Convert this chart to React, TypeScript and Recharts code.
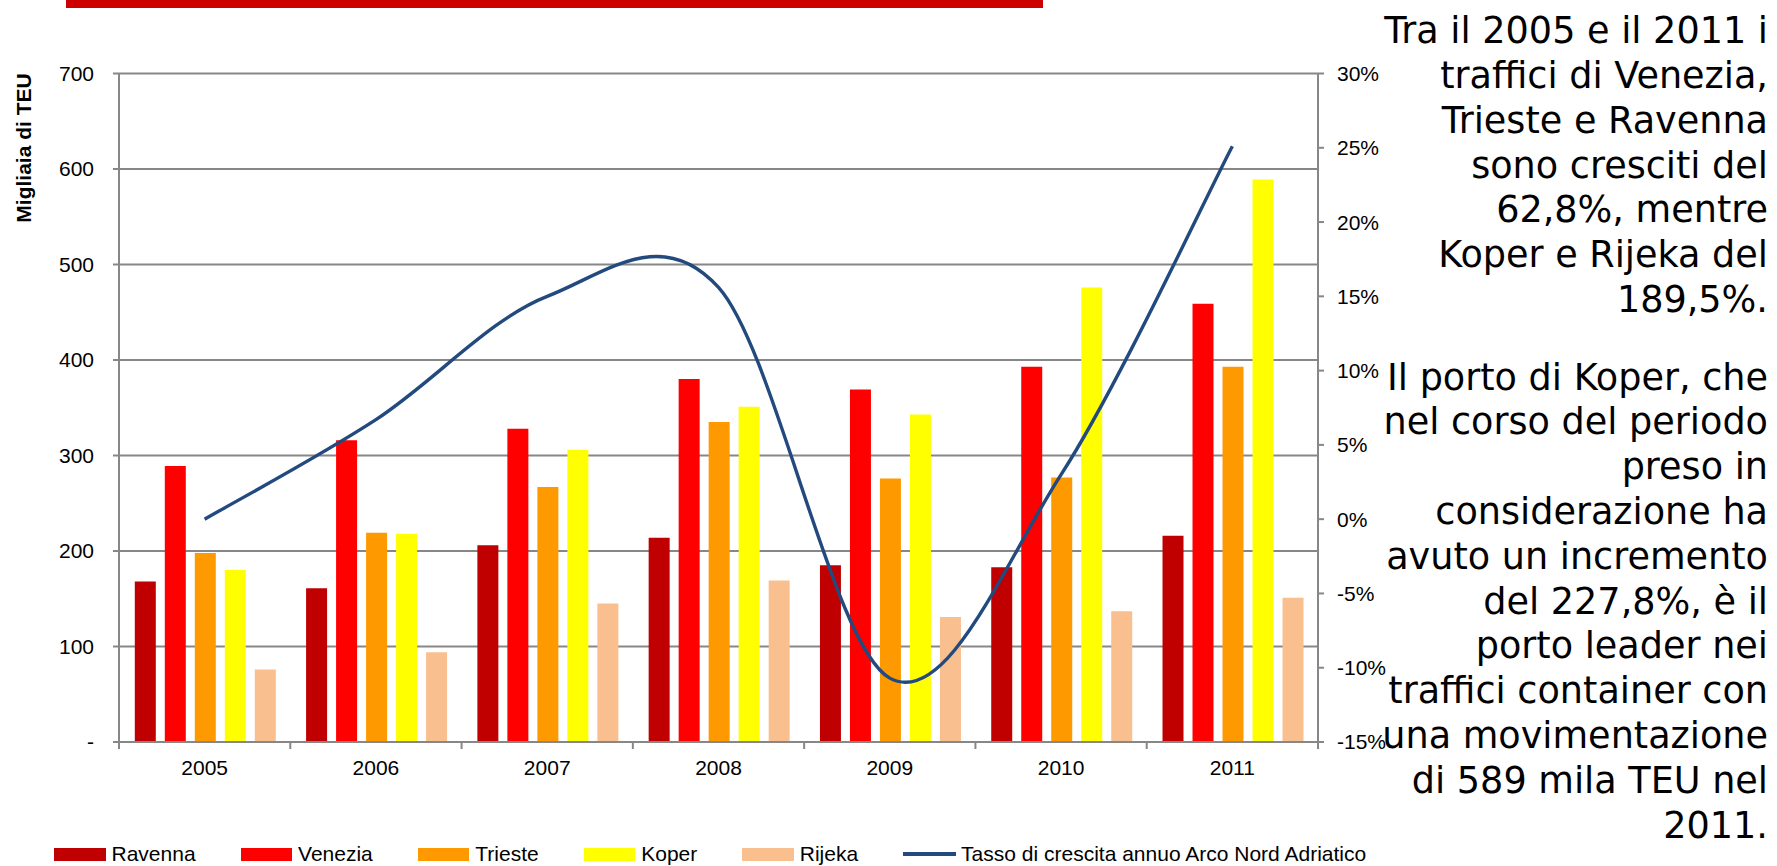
import React from "react";
import { ComposedChart, Bar, Line, XAxis, YAxis, CartesianGrid } from "recharts";

// Container traffic (thousand TEU) per port, 2005-2011
const YEARS = ["2005", "2006", "2007", "2008", "2009", "2010", "2011"];
const RAVENNA = [168, 161, 206, 214, 185, 183, 216];
const VENEZIA = [289, 316, 328, 380, 369, 393, 459];
const TRIESTE = [198, 219, 267, 335, 276, 277, 393];
const KOPER = [180, 218, 306, 351, 343, 476, 589];
const RIJEKA = [76, 94, 145, 169, 131, 137, 151];
// annual growth rate of the North Adriatic ports, %
const GROWTH = [0, 6.7, 15, 15.6, -10.7, 3, 25.1];

const TEU_TICKS = [0, 100, 200, 300, 400, 500, 600, 700];
const PCT_TICKS = [-15, -10, -5, 0, 5, 10, 15, 20, 25, 30];

const SERIES = [
  { key: "ravenna", name: "Ravenna", color: "#C00000", values: RAVENNA },
  { key: "venezia", name: "Venezia", color: "#FF0000", values: VENEZIA },
  { key: "trieste", name: "Trieste", color: "#FF9900", values: TRIESTE },
  { key: "koper", name: "Koper", color: "#FFFF00", values: KOPER },
  { key: "rijeka", name: "Rijeka", color: "#F9BF8F", values: RIJEKA },
];
const LINE_NAME = "Tasso di crescita annuo Arco Nord Adriatico";
const LINE_COLOR = "#234A7E";

const NOTE = [
  [
    "Tra il 2005 e il 2011 i",
    "traffici di Venezia,",
    "Trieste e Ravenna",
    "sono cresciti del",
    "62,8%, mentre",
    "Koper e Rijeka del",
    "189,5%.",
  ],
  [
    "Il porto di Koper, che",
    "nel corso del periodo",
    "preso in",
    "considerazione ha",
    "avuto un incremento",
    "del 227,8%, è il",
    "porto leader nei",
    "traffici container con",
    "una movimentazione",
    "di 589 mila TEU nel",
    "2011.",
  ],
];

const data = YEARS.map((year, i) => {
  const row: Record<string, string | number> = { year, growth: GROWTH[i] };
  SERIES.forEach((s) => (row[s.key] = s.values[i]));
  return row;
});

// layout
const W = 1777;
const H = 866;
const PLOT_LEFT = 119;
const PLOT_RIGHT = 1318;
const PLOT_TOP = 73.5;
const PLOT_BOTTOM = 742;
const AXIS_W = 70;
const XAXIS_H = 40;
const BAND = (PLOT_RIGHT - PLOT_LEFT) / YEARS.length;

const GRAY = "#878787";
const SANS = "'Liberation Sans', Arial, sans-serif";

// Smooth line through every point (Catmull-Rom, like the spreadsheet "smoothed line")
function smoothCurve(context: any) {
  let pts: [number, number][] = [];
  return {
    areaStart() {},
    areaEnd() {},
    lineStart() {
      pts = [];
    },
    point(x: number, y: number) {
      pts.push([+x, +y]);
    },
    lineEnd() {
      if (!pts.length) return;
      context.moveTo(pts[0][0], pts[0][1]);
      for (let i = 0; i < pts.length - 1; i++) {
        const p0 = pts[Math.max(i - 1, 0)];
        const p1 = pts[i];
        const p2 = pts[i + 1];
        const p3 = pts[Math.min(i + 2, pts.length - 1)];
        context.bezierCurveTo(
          p1[0] + (p2[0] - p0[0]) / 6,
          p1[1] + (p2[1] - p0[1]) / 6,
          p2[0] - (p3[0] - p1[0]) / 6,
          p2[1] - (p3[1] - p1[1]) / 6,
          p2[0],
          p2[1]
        );
      }
    },
  };
}

// year label centred in the band, tick marks on the band edges
function YearTick(props: any) {
  const { x, payload, index } = props;
  const left = x - BAND / 2;
  const right = x + BAND / 2;
  return (
    <g>
      <line x1={left} x2={left} y1={PLOT_BOTTOM} y2={PLOT_BOTTOM + 7} stroke={GRAY} strokeWidth={2} />
      {index === YEARS.length - 1 && (
        <line x1={right} x2={right} y1={PLOT_BOTTOM} y2={PLOT_BOTTOM + 7} stroke={GRAY} strokeWidth={2} />
      )}
      <text
        x={x}
        y={PLOT_BOTTOM + 25}
        textAnchor="middle"
        dominantBaseline="central"
        fontSize={21}
        fontFamily={SANS}
        fill="#000"
      >
        {payload.value}
      </text>
    </g>
  );
}

function LegendRow() {
  return (
    <div
      style={{
        position: "absolute",
        left: 54,
        top: 854,
        transform: "translateY(-50%)",
        display: "flex",
        alignItems: "center",
        gap: 45,
        fontFamily: SANS,
        fontSize: 21,
        lineHeight: "22px",
        whiteSpace: "nowrap",
      }}
    >
      {SERIES.map((s) => (
        <div key={s.key} style={{ display: "flex", alignItems: "center" }}>
          <span style={{ width: 51.5, height: 13, background: s.color, marginRight: 6 }} />
          <span>{s.name}</span>
        </div>
      ))}
      <div style={{ display: "flex", alignItems: "center" }}>
        <span style={{ width: 53, height: 3.5, background: LINE_COLOR, marginRight: 5 }} />
        <span>{LINE_NAME}</span>
      </div>
    </div>
  );
}

function NoteText() {
  const tops = [9.3, 355.6];
  return (
    <>
      {NOTE.map((lines, p) => (
        <div
          key={p}
          style={{
            position: "absolute",
            right: W - 1768,
            top: tops[p],
            textAlign: "right",
            fontFamily: "'DejaVu Sans', Verdana, sans-serif",
            fontSize: 36.6,
            lineHeight: "44.8px",
            color: "#000",
            whiteSpace: "nowrap",
          }}
        >
          {lines.map((l, i) => (
            <div key={i}>{l}</div>
          ))}
        </div>
      ))}
    </>
  );
}

export default function App() {
  return (
    <div
      style={{
        position: "absolute",
        left: 0,
        top: 0,
        width: W,
        height: H,
        background: "#fff",
        overflow: "hidden",
        fontFamily: SANS,
      }}
    >
      <div style={{ position: "absolute", left: 66, top: 0, width: 977, height: 8, background: "#CC0000" }} />

      <div
        style={{
          position: "absolute",
          left: 24,
          top: 148,
          transform: "translate(-50%, -50%) rotate(-90deg)",
          fontWeight: "bold",
          fontSize: 21,
          whiteSpace: "nowrap",
        }}
      >
        Migliaia di TEU
      </div>

      <div style={{ position: "absolute", left: 0, top: 0 }}>
        <ComposedChart
          width={W}
          height={H}
          data={data}
          margin={{
            top: PLOT_TOP,
            left: PLOT_LEFT - AXIS_W,
            right: W - PLOT_RIGHT - AXIS_W,
            bottom: H - PLOT_BOTTOM - XAXIS_H,
          }}
          barCategoryGap={15.8}
          barGap={9}
        >
          <CartesianGrid yAxisId="teu" vertical={false} stroke={GRAY} strokeWidth={2} />
          <XAxis
            dataKey="year"
            height={XAXIS_H}
            interval={0}
            tickLine={false}
            axisLine={{ stroke: GRAY, strokeWidth: 2 }}
            tick={(p: any) => <YearTick {...p} />}
          />
          <YAxis
            yAxisId="teu"
            width={AXIS_W}
            domain={[0, 700]}
            ticks={TEU_TICKS}
            interval={0}
            tickSize={6}
            tickMargin={19}
            tickFormatter={(v: number) => (v === 0 ? "-" : String(v))}
            tick={{ fontSize: 21, fill: "#000", fontFamily: SANS }}
            tickLine={{ stroke: GRAY, strokeWidth: 2 }}
            axisLine={{ stroke: GRAY, strokeWidth: 2 }}
          />
          <YAxis
            yAxisId="pct"
            orientation="right"
            width={AXIS_W}
            domain={[-15, 30]}
            ticks={PCT_TICKS}
            interval={0}
            tickSize={6}
            tickMargin={13}
            tickFormatter={(v: number) => `${v}%`}
            tick={{ fontSize: 21, fill: "#000", fontFamily: SANS }}
            tickLine={{ stroke: GRAY, strokeWidth: 2 }}
            axisLine={{ stroke: GRAY, strokeWidth: 2 }}
          />
          {SERIES.map((s) => (
            <Bar
              key={s.key}
              yAxisId="teu"
              dataKey={s.key}
              name={s.name}
              fill={s.color}
              isAnimationActive={false}
            />
          ))}
          <Line
            yAxisId="pct"
            dataKey="growth"
            name={LINE_NAME}
            type={smoothCurve as any}
            stroke={LINE_COLOR}
            strokeWidth={3.4}
            dot={false}
            activeDot={false}
            isAnimationActive={false}
          />
        </ComposedChart>
      </div>

      <NoteText />
      <LegendRow />
    </div>
  );
}
